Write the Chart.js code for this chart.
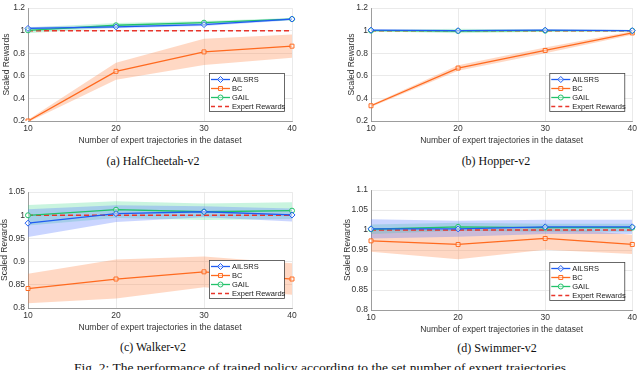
<!DOCTYPE html>
<html>
<head>
<meta charset="utf-8">
<script src="https://cdn.jsdelivr.net/npm/chart.js@4.4.1/dist/chart.umd.min.js"></script>
<style>
  html, body { margin: 0; padding: 0; background: #fff; }
  body { width: 640px; height: 370px; position: relative; overflow: hidden; }
  canvas { position: absolute; }
  .sub { position: absolute; font-family: "Liberation Serif", "Times New Roman", serif; font-size: 12px; color: #111; white-space: nowrap; transform: translateX(-50%); line-height: 12px; }
  .fig { position: absolute; left: 74px; top: 361px; font-family: "Liberation Serif", "Times New Roman", serif; font-size: 13.5px; color: #111; white-space: nowrap; line-height: 14px; }
</style>
</head>
<body>
<canvas id="cheetah" width="300" height="148" style="left:0px;top:0px"></canvas>
<canvas id="hopper" width="297" height="148" style="left:343px;top:0px"></canvas>
<canvas id="walker" width="300" height="151" style="left:0px;top:184px"></canvas>
<canvas id="swimmer" width="297" height="155" style="left:343px;top:182px"></canvas>
<div class="sub" style="left:153px;top:155px">(a) HalfCheetah-v2</div>
<div class="sub" style="left:496px;top:155px">(b) Hopper-v2</div>
<div class="sub" style="left:153px;top:341px">(c) Walker-v2</div>
<div class="sub" style="left:497px;top:342px">(d) Swimmer-v2</div>
<div class="fig">Fig. 2: The performance of trained policy according to the set number of expert trajectories.</div>
<script>
const trajCounts = ['10', '20', '30', '40'];
const expertRewards = [1, 1, 1, 1];

// HalfCheetah-v2
const cheetahAilsrs = [1.02, 1.034, 1.054, 1.103];
const cheetahAilsrsStd = [0.012, 0.012, 0.012, 0.01];
const cheetahBc = [0.2, 0.64, 0.812, 0.863];
const cheetahBcStd = [0.01, 0.075, 0.117, 0.103];
const cheetahGail = [1.003, 1.048, 1.071, 1.103];
const cheetahGailStd = [0.025, 0.02, 0.015, 0.01];

// Hopper-v2
const hopperAilsrs = [1.005, 1.0, 1.005, 1.0];
const hopperAilsrsStd = [0.005, 0.005, 0.005, 0.005];
const hopperBc = [0.335, 0.669, 0.825, 0.98];
const hopperBcStd = [0.01, 0.025, 0.025, 0.015];
const hopperGail = [1.0, 0.997, 1.0, 1.0];
const hopperGailStd = [0.006, 0.02, 0.01, 0.005];

// Walker-v2
const walkerAilsrs = [0.983, 1.0035, 1.0076, 1.0007];
const walkerAilsrsStd = [0.03, 0.018, 0.012, 0.014];
const walkerBc = [0.842, 0.8625, 0.878, 0.8625];
const walkerBcStd = [0.032, 0.042, 0.033, 0.034];
const walkerGail = [1.0, 1.012, 1.0076, 1.01];
const walkerGailStd = [0.022, 0.018, 0.018, 0.018];

// Swimmer-v2
const swimmerAilsrs = [1.003, 1.003, 1.008, 1.008];
const swimmerAilsrsStd = [0.024, 0.02, 0.018, 0.018];
const swimmerBc = [0.973, 0.964, 0.979, 0.964];
const swimmerBcStd = [0.027, 0.037, 0.028, 0.024];
const swimmerGail = [1.002, 1.008, 1.006, 1.006];
const swimmerGailStd = [0.012, 0.01, 0.01, 0.01];

const BLUE = '#1f5cf2';
const ORANGE = '#ff6a1f';
const GREEN = '#22c26a';
const RED = '#e8352b';

Chart.defaults.font.family = '"Liberation Sans", Arial, sans-serif';
Chart.defaults.font.size = 8.5;
Chart.defaults.color = '#333';

const legendItems = [
  { label: 'AILSRS', color: BLUE, style: 'rectRot', radius: 3 },
  { label: 'BC', color: ORANGE, style: 'rect', radius: 2.8 },
  { label: 'GAIL', color: GREEN, style: 'circle', radius: 2.5 },
  { label: 'Expert Rewards', color: RED, dash: [4, 3] }
];

// legend box drawn inside the plot, bottom right
const boxLegend = {
  id: 'boxLegend',
  afterDraw(chart) {
    const { ctx, chartArea } = chart;
    const w = 75, h = 38;
    const left = chartArea.right - 8 - w;
    const top = chartArea.bottom - 10 - h;
    ctx.save();
    ctx.fillStyle = '#fff';
    ctx.fillRect(left, top, w, h);
    ctx.strokeStyle = '#444';
    ctx.lineWidth = 0.8;
    ctx.strokeRect(left + 0.5, top + 0.5, w, h);
    legendItems.forEach((item, i) => {
      const y = top + 6.5 + i * 9;
      ctx.strokeStyle = item.color;
      ctx.lineWidth = item.dash ? 1.5 : 1.3;
      ctx.setLineDash(item.dash || []);
      ctx.beginPath();
      ctx.moveTo(left + 2, y);
      ctx.lineTo(left + 21, y);
      ctx.stroke();
      ctx.setLineDash([]);
      if (item.style) {
        ctx.fillStyle = 'rgba(255,255,255,0.5)';
        ctx.lineWidth = 1;
        Chart.helpers.drawPoint(ctx, { pointStyle: item.style, radius: item.radius, borderWidth: 1, rotation: 0 }, left + 11.5, y);
      }
      ctx.fillStyle = '#222';
      ctx.font = '7.5px "Liberation Sans", Arial, sans-serif';
      ctx.textBaseline = 'middle';
      ctx.fillText(item.label, left + 23, y + 0.5);
    });
    ctx.restore();
  }
};

const seriesLine = (label, data, color, style, radius) => ({
  label, data,
  borderColor: color, borderWidth: 1.3,
  pointStyle: style, pointRadius: radius,
  pointBorderColor: color, pointBackgroundColor: 'rgba(255,255,255,0.5)', pointBorderWidth: 1,
  fill: false, tension: 0
});

const band = (mean, std, color) => [
  { data: mean.map((v, i) => v - std[i]), borderWidth: 0, pointRadius: 0, fill: false },
  { data: mean.map((v, i) => v + std[i]), borderWidth: 0, pointRadius: 0, fill: '-1', backgroundColor: color }
];

const makePanel = (id, p) => {
  new Chart(document.getElementById(id), {
    type: 'line',
    data: {
      labels: trajCounts,
      datasets: [
        seriesLine('AILSRS', p.ailsrs, BLUE, 'rectRot', 3),
        seriesLine('GAIL', p.gail, GREEN, 'circle', 2.5),
        seriesLine('BC', p.bc, ORANGE, 'rect', 2.8),
        { label: 'Expert Rewards', data: expertRewards, borderColor: RED, borderWidth: 1.5, borderDash: [5, 3], pointRadius: 0, fill: false },
        ...band(p.ailsrs, p.ailsrsStd, 'rgba(90,125,255,0.32)'),
        ...band(p.gail, p.gailStd, 'rgba(60,215,140,0.28)'),
        ...band(p.bc, p.bcStd, 'rgba(255,125,60,0.3)')
      ]
    },
    options: {
      responsive: false,
      devicePixelRatio: 1,
      animation: false,
      layout: { padding: { left: 0, right: p.padRight, top: p.padTop, bottom: 0 } },
      plugins: { legend: { display: false }, tooltip: { enabled: false } },
      scales: {
        x: {
          grid: { color: '#e4e4e4', lineWidth: 0.8, drawTicks: false },
          border: { color: '#8a8a8a', width: 0.8 },
          ticks: { padding: 3, autoSkip: false, maxRotation: 0 },
          title: { display: true, text: 'Number of expert trajectories in the dataset', padding: { top: 0, bottom: 2 } },
          afterFit: (scale) => { scale.height = 27; }
        },
        y: {
          min: p.yMin, max: p.yMax,
          grid: { color: '#e4e4e4', lineWidth: 0.8, drawTicks: false },
          border: { color: '#8a8a8a', width: 0.8 },
          ticks: { stepSize: p.yStep, padding: 3, callback: (v) => String(Number(v.toFixed(2))) },
          title: { display: true, text: 'Scaled Rewards', padding: { top: p.titlePad, bottom: 0 } },
          afterFit: (scale) => { scale.width = 28; }
        }
      }
    },
    plugins: [boxLegend]
  });
};

makePanel('cheetah', {
  ailsrs: cheetahAilsrs, ailsrsStd: cheetahAilsrsStd, bc: cheetahBc, bcStd: cheetahBcStd,
  gail: cheetahGail, gailStd: cheetahGailStd,
  yMin: 0.2, yMax: 1.2, yStep: 0.2, padTop: 4, padRight: 8, titlePad: 2
});
makePanel('hopper', {
  ailsrs: hopperAilsrs, ailsrsStd: hopperAilsrsStd, bc: hopperBc, bcStd: hopperBcStd,
  gail: hopperGail, gailStd: hopperGailStd,
  yMin: 0.2, yMax: 1.2, yStep: 0.2, padTop: 3, padRight: 5, titlePad: 4
});
makePanel('walker', {
  ailsrs: walkerAilsrs, ailsrsStd: walkerAilsrsStd, bc: walkerBc, bcStd: walkerBcStd,
  gail: walkerGail, gailStd: walkerGailStd,
  yMin: 0.8, yMax: 1.05, yStep: 0.05, padTop: 4, padRight: 8, titlePad: 0
});
makePanel('swimmer', {
  ailsrs: swimmerAilsrs, ailsrsStd: swimmerAilsrsStd, bc: swimmerBc, bcStd: swimmerBcStd,
  gail: swimmerGail, gailStd: swimmerGailStd,
  yMin: 0.8, yMax: 1.1, yStep: 0.05, padTop: 4, padRight: 5, titlePad: 0
});
</script>
</body>
</html>
